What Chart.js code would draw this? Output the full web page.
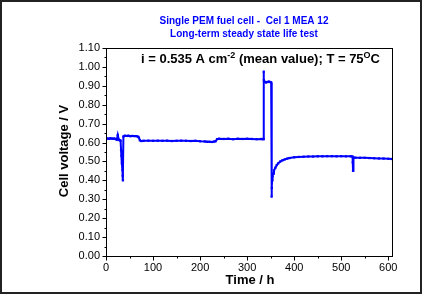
<!DOCTYPE html>
<html>
<head>
<meta charset="utf-8">
<script src="https://cdn.jsdelivr.net/npm/chart.js@4/dist/chart.umd.min.js"></script>
<style>
  html,body{margin:0;padding:0;background:#fff;}
  canvas{display:block;}
</style>
</head>
<body>
<canvas id="c" width="422" height="294"></canvas>
<script>
/* ---------- data ---------- */
const TITLE_LINES = ['Single PEM fuel cell -  Cel 1 MEA 12', 'Long-term steady state life test'];
const X_TITLE = 'Time / h';
const Y_TITLE = 'Cell voltage / V';

// time (h)
const TIME = [
  0, 3, 6, 9, 12, 15, 18, 21, 23, 25, 27, 29, 31, 32, 33, 34, 35, 35.5, 36,
  37, 40, 44, 48, 52, 56, 60, 64, 68, 70, 72, 75,
  80, 90, 100, 110, 120, 130, 140, 150, 160, 170, 180, 190, 200, 210, 215, 220, 225, 230, 233,
  236, 240, 250, 260, 270, 280, 290, 300, 310, 320, 330, 334,
  335, 335.3, 335.6, 337, 340, 343, 346, 349, 351,
  352, 352.5, 353, 354, 355, 357, 360, 363, 366, 370, 375, 380, 385, 390, 400, 410,
  420, 430, 440, 450, 460, 470, 480, 490, 500, 510, 520, 524, 524.5, 525, 526,
  530, 540, 550, 560, 570, 580, 590, 600, 608
];
// cell voltage (V)
const VOLT = [
  0.622, 0.621, 0.620, 0.622, 0.621, 0.620, 0.621, 0.618, 0.615, 0.640, 0.616, 0.612, 0.610, 0.560, 0.530, 0.490, 0.455, 0.425, 0.400,
  0.632, 0.636, 0.635, 0.636, 0.634, 0.635, 0.634, 0.634, 0.631, 0.626, 0.612, 0.608,
  0.609, 0.610, 0.609, 0.610, 0.609, 0.610, 0.608, 0.609, 0.610, 0.609, 0.608, 0.609, 0.607, 0.606, 0.604, 0.604, 0.603, 0.605, 0.607,
  0.618, 0.620, 0.619, 0.620, 0.618, 0.620, 0.619, 0.620, 0.619, 0.618, 0.619, 0.618,
  0.619, 0.975, 0.930, 0.922, 0.918, 0.920, 0.922, 0.920, 0.918,
  0.314, 0.360, 0.400, 0.420, 0.435, 0.452, 0.467, 0.481, 0.490, 0.499, 0.506, 0.511, 0.515, 0.518, 0.522, 0.524,
  0.525, 0.526, 0.526, 0.527, 0.527, 0.528, 0.528, 0.527, 0.528, 0.527, 0.527, 0.526, 0.495, 0.451, 0.521,
  0.520, 0.519, 0.519, 0.518, 0.517, 0.516, 0.515, 0.514, 0.513
];
const X_MIN = 0, X_MAX = 610, X_STEP = 50;
const Y_MIN = 0, Y_MAX = 1.1, Y_STEP = 0.05;

/* ---------- helpers ---------- */
const FONT = '"Liberation Sans", Arial, sans-serif';
const BLUE = '#0000ff';

const textPlugin = {
  id: 'textPlugin',
  afterDraw(chart) {
    const { ctx, chartArea: a, scales } = chart;
    ctx.save();
    // plot frame
    ctx.strokeStyle = '#000'; ctx.lineWidth = 1;
    const L = Math.round(a.left) + 0.5, T = Math.round(a.top) + 0.5;
    const R = Math.round(a.right) - 0.5, B = Math.round(a.bottom) + 0.5;
    ctx.strokeRect(L, T, R - L, B - T);

    // ticks: major long, minor short, outward
    ctx.beginPath();
    scales.x.ticks.forEach(t => {
      const px = Math.round(scales.x.getPixelForValue(t.value)) + 0.5;
      const len = t.value % 100 === 0 ? 4 : 2;
      ctx.moveTo(px, B); ctx.lineTo(px, B + len);
    });
    scales.y.ticks.forEach(t => {
      const py = Math.round(scales.y.getPixelForValue(t.value)) + 0.5;
      const len = Math.round(t.value * 100) % 10 === 0 ? 4 : 2;
      ctx.moveTo(L, py); ctx.lineTo(L - len, py);
    });
    ctx.stroke();

    // outer frame
    ctx.strokeStyle = '#222'; ctx.lineWidth = 2;
    ctx.strokeRect(1, 1, chart.width - 2, chart.height - 2);

    // title
    ctx.fillStyle = BLUE; ctx.textAlign = 'center'; ctx.textBaseline = 'middle';
    ctx.font = 'bold 10px ' + FONT;
    ctx.fillText(TITLE_LINES[0], 244, 21);
    ctx.fillText(TITLE_LINES[1], 244, 34);

    // axis titles
    ctx.fillStyle = '#000';
    ctx.font = 'bold 13px ' + FONT;
    ctx.fillText(X_TITLE, 250, 280);
    ctx.save();
    ctx.translate(64, 151); ctx.rotate(-Math.PI / 2);
    ctx.fillText(Y_TITLE, 0, 0);
    ctx.restore();

    // annotation with superscripts
    ctx.textAlign = 'left'; ctx.textBaseline = 'alphabetic';
    const parts = [
      ['i = 0.535 A cm', 13, 0],
      ['-2', 9, -5],
      [' (mean value); T = 75', 13, 0],
      ['O', 9, -5],
      ['C', 13, 0]
    ];
    let x = 141;
    for (const [t, s, dy] of parts) {
      ctx.font = 'bold ' + s + 'px ' + FONT;
      ctx.fillText(t, x, 63 + dy);
      x += ctx.measureText(t).width;
    }
    ctx.restore();
  }
};

const points = TIME.map((t, i) => ({ x: t, y: VOLT[i] }));

new Chart(document.getElementById('c'), {
  type: 'line',
  data: {
    datasets: [{
      data: points,
      borderColor: BLUE,
      backgroundColor: BLUE,
      borderWidth: 2,
      pointStyle: 'rect',
      pointRadius: 1.6,
      pointBorderWidth: 0,
      tension: 0
    }]
  },
  options: {
    responsive: false,
    animation: false,
    layout: { padding: { left: 0, top: 48, right: 29, bottom: 0 } },
    plugins: { legend: { display: false }, tooltip: { enabled: false }, title: { display: false } },
    scales: {
      x: {
        type: 'linear', min: X_MIN, max: X_MAX,
        afterFit(s) { s.height = 38; },
        ticks: {
          stepSize: X_STEP, autoSkip: false, maxRotation: 0, padding: 1, color: '#000',
          includeBounds: false,
          font: { family: FONT, size: 11 },
          callback: (v) => (v % 100 === 0 ? String(v) : '')
        },
        grid: { drawOnChartArea: false, drawTicks: true, tickLength: 4, tickColor: 'rgba(0,0,0,0)' },
        border: { display: false }
      },
      y: {
        min: Y_MIN, max: Y_MAX,
        afterFit(s) { s.width = 106; },
        ticks: {
          stepSize: Y_STEP, autoSkip: false, padding: 2, color: '#000',
          font: { family: FONT, size: 11 },
          callback: (v) => (Math.round(v * 100) % 10 === 0 ? v.toFixed(2) : '')
        },
        grid: { drawOnChartArea: false, drawTicks: true, tickLength: 4, tickColor: 'rgba(0,0,0,0)' },
        border: { display: false }
      }
    }
  },
  plugins: [textPlugin]
});
</script>
</body>
</html>
